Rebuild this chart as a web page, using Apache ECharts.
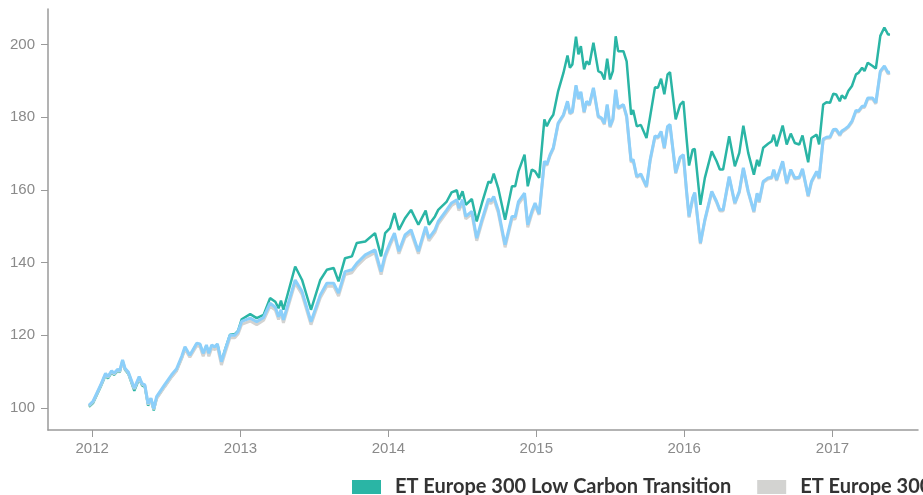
<!DOCTYPE html>
<html><head><meta charset="utf-8">
<script src="https://cdn.jsdelivr.net/npm/echarts@6/dist/echarts.min.js"></script>
<style>html,body{margin:0;padding:0;background:#fff}#c{width:923px;height:495px}</style>
</head><body><div id="c"></div>
<script>
const seriesNames = ['ET Europe 300 Low Carbon Transition', 'ET Europe 300', 'MSCI Europe'];
const yTicks = [100, 120, 140, 160, 180, 200];
const yearTicks = ['2012', '2013', '2014', '2015', '2016', '2017'];
const dates = [
'2011-12-24','2012-01-03','2012-01-22','2012-02-03','2012-02-09','2012-02-18','2012-02-24','2012-03-04','2012-03-09','2012-03-16','2012-03-22','2012-03-30','2012-04-14','2012-04-26','2012-05-03','2012-05-10','2012-05-18','2012-05-25','2012-06-01','2012-06-08','2012-06-28','2012-07-15','2012-07-27','2012-08-09','2012-08-17','2012-08-29','2012-09-15','2012-09-23','2012-10-01','2012-10-09','2012-10-15','2012-10-22','2012-10-30','2012-11-05','2012-11-15','2012-11-24','2012-12-06','2012-12-18','2012-12-26',
'2013-01-04','2013-01-25','2013-02-10','2013-02-27','2013-03-15','2013-03-28','2013-04-05','2013-04-11','2013-04-17','2013-05-16','2013-06-02','2013-06-24','2013-07-17','2013-08-02','2013-08-19','2013-08-31','2013-09-16','2013-10-03','2013-10-15','2013-11-05','2013-11-29','2013-12-14','2013-12-24',
'2014-01-05','2014-01-16','2014-01-27','2014-02-11','2014-02-26','2014-03-16','2014-04-03','2014-04-11','2014-04-26','2014-05-04','2014-05-25','2014-06-06','2014-06-19','2014-06-24','2014-07-03','2014-07-11','2014-07-26','2014-08-07','2014-08-20','2014-09-05','2014-09-11','2014-09-18','2014-09-29','2014-10-16','2014-11-02','2014-11-10','2014-11-18','2014-12-03','2014-12-11','2014-12-21','2014-12-29',
'2015-01-08','2015-01-21','2015-01-27','2015-02-04','2015-02-12','2015-02-24','2015-03-09','2015-03-19','2015-03-25','2015-03-31','2015-04-09','2015-04-15','2015-04-21','2015-04-29','2015-05-05','2015-05-12','2015-05-22','2015-06-03','2015-06-11','2015-06-18','2015-06-25','2015-07-02','2015-07-09','2015-07-16','2015-07-22','2015-08-04','2015-08-12','2015-08-23','2015-08-28','2015-09-06','2015-09-16','2015-09-30','2015-10-09','2015-10-21','2015-10-28','2015-11-05','2015-11-13','2015-11-21','2015-11-27','2015-12-11','2015-12-22','2015-12-30',
'2016-01-07','2016-01-13','2016-01-22','2016-01-27','2016-02-10','2016-02-21','2016-03-09','2016-03-21','2016-03-29','2016-04-06','2016-04-21','2016-05-05','2016-05-16','2016-05-26','2016-06-07','2016-06-21','2016-06-29','2016-07-04','2016-07-14','2016-07-26','2016-08-04','2016-08-09','2016-08-16','2016-08-31','2016-09-10','2016-09-20','2016-09-30','2016-10-11','2016-10-19','2016-11-02','2016-11-10','2016-11-23','2016-11-29','2016-12-09','2016-12-17','2016-12-26',
'2017-01-03','2017-01-10','2017-01-19','2017-01-24','2017-02-01','2017-02-09','2017-02-18','2017-02-28','2017-03-06','2017-03-15','2017-03-21','2017-03-29','2017-04-10','2017-04-18','2017-04-29','2017-05-09','2017-05-18','2017-05-23'
];
const lowCarbon = [
100.3,101.3,105.8,109.0,108.1,109.7,109.1,110.2,109.8,112.8,110.5,109.4,104.7,108.0,106.2,105.8,100.6,102.2,99.3,102.6,105.9,108.6,110.2,113.7,116.4,114.2,117.6,117.4,114.8,117.1,114.8,117.1,116.6,117.5,112.7,116.0,120.1,120.3,121.2,
124.4,125.8,124.7,125.6,130.2,129.2,127.4,129.5,127.0,138.9,135.2,127.0,135.2,138.0,138.5,134.8,141.2,141.7,145.4,145.8,148.1,141.7,148.1,
149.5,153.6,149.0,152.2,154.5,150.4,154.3,150.4,152.7,154.5,156.8,159.3,159.9,157.3,159.6,155.9,157.5,151.3,156.4,162.3,161.9,164.5,160.5,151.8,161.0,161.0,165.1,169.7,161.0,165.6,165.1,
163.3,179.4,177.5,179.4,180.7,187.2,192.2,197.0,193.6,194.5,202.2,197.3,199.6,193.2,195.4,194.5,200.5,192.7,192.2,190.4,196.1,190.4,192.7,202.3,198.2,198.2,195.4,180.7,182.0,177.5,177.9,174.3,180.2,188.3,188.1,190.6,186.3,191.8,192.4,179.4,183.5,184.4,
174.0,166.7,171.1,171.3,155.9,163.3,170.6,167.9,165.6,165.6,174.8,166.5,170.2,177.7,170.2,164.2,168.3,166.5,171.6,172.7,173.4,175.2,172.0,177.7,172.5,175.5,172.9,172.5,175.0,167.6,174.3,175.2,172.5,183.5,184.1,184.0,
186.5,186.3,184.4,186.0,185.1,187.2,188.6,191.8,192.2,193.6,192.7,195.0,194.1,193.4,202.4,204.7,202.8,202.8
];
const europe300 = [
100.5,101.6,106.1,109.3,108.4,110.0,109.3,110.4,110.0,113.0,110.7,109.7,105.2,108.4,106.5,106.1,100.9,102.5,99.6,102.5,105.8,108.5,110.1,113.6,116.2,113.9,117.1,116.9,114.2,116.6,114.2,116.5,116.0,116.9,111.8,115.1,119.3,119.3,120.3,
123.0,123.9,122.9,124.1,128.0,126.9,124.3,126.2,123.4,134.4,131.2,122.9,130.3,133.5,133.5,130.8,136.7,137.2,139.0,141.3,142.7,136.7,141.3,
144.7,147.4,142.4,146.9,148.3,142.4,149.2,146.0,148.3,150.6,153.8,155.7,156.6,154.3,156.6,152.0,153.4,146.0,151.1,156.8,156.2,157.5,153.8,144.2,152.0,152.0,156.1,158.4,149.7,153.4,155.7,
153.1,167.6,166.7,169.4,171.3,178.1,180.4,184.1,180.9,181.3,188.5,184.9,186.7,181.2,184.1,183.2,187.8,180.0,179.5,178.0,183.2,177.2,179.2,187.3,182.3,183.2,180.0,167.6,168.1,163.4,164.1,160.7,168.0,174.6,174.2,175.8,171.3,177.2,177.7,164.5,168.7,169.4,
159.2,152.4,157.5,159.0,145.1,151.5,159.3,156.5,154.2,154.2,163.4,156.1,159.3,165.8,159.3,153.8,158.8,156.5,162.0,163.0,163.2,165.3,162.5,167.6,161.6,165.3,163.0,163.2,165.5,158.1,162.0,164.8,163.0,173.7,174.2,174.3,
176.3,176.4,174.9,175.9,176.5,177.2,178.6,181.6,181.4,182.7,182.7,185.0,185.0,183.7,192.4,193.8,192.0,192.1
];
const benchmark = [
100.7,101.8,106.3,109.5,108.6,110.2,109.5,110.6,110.2,113.2,110.9,109.9,105.4,108.6,106.7,106.3,101.1,102.7,99.8,103.1,106.4,109.1,110.7,114.2,116.8,114.5,117.8,117.6,115.0,117.3,115.0,117.3,116.8,117.6,112.7,115.9,120.0,120.0,121.0,
123.8,124.7,123.7,124.9,128.8,127.7,125.1,127.0,124.2,135.2,132.0,123.7,131.1,134.3,134.3,131.6,137.5,138.0,139.8,142.1,143.5,137.5,142.1,
145.4,148.1,143.1,147.6,149.0,143.1,149.9,146.7,149.0,151.3,154.5,156.4,157.3,155.0,157.3,152.7,154.1,146.7,151.8,157.5,156.9,158.2,154.5,144.9,152.7,152.7,156.8,159.1,150.4,154.1,156.4,
153.4,167.9,167.0,169.7,171.6,178.4,180.7,184.4,181.2,181.6,188.8,185.2,187.0,181.5,184.4,183.5,188.1,180.3,179.8,178.3,183.5,177.5,179.5,187.6,182.6,183.5,180.3,167.9,168.4,163.7,164.4,161.0,168.3,174.9,174.5,176.1,171.6,177.5,178.0,164.8,169.0,169.7,
159.5,152.7,157.8,159.3,145.4,151.8,159.6,156.8,154.5,154.5,163.7,156.4,159.6,166.1,159.6,154.1,159.1,156.8,162.3,163.3,163.5,165.6,162.8,167.9,161.9,165.6,163.3,163.5,165.8,158.4,162.3,165.1,163.3,174.0,174.5,174.6,
176.6,176.7,175.2,176.2,176.8,177.5,178.9,181.9,181.7,183.0,183.0,185.3,185.3,184.0,192.7,194.1,192.3,192.4
];
const colors = ['#2ab5a5', '#d3d3d1', '#8ccffa'];

const chart = echarts.init(document.getElementById('c'), null, {renderer: 'canvas'});
const ts = s => new Date(s + 'T00:00:00').getTime();
const pair = arr => dates.map((d, i) => [ts(d), arr[i]]);
const yearStamps = yearTicks.map(y => ts(y + '-01-01'));
const axisGrey = '#9a9a9a';
const labelGrey = '#8a8a8a';
chart.setOption({
  animation: false,
  color: colors,
  grid: {left: 48, right: 5, top: 9, bottom: 65, containLabel: false},
  legend: {
    left: 352, top: 477, width: 3000, padding: 0,
    icon: 'rect', itemWidth: 29, itemHeight: 14, itemGap: 26,
    textStyle: {fontFamily: 'Lato', fontWeight: 'bold', fontSize: 20, lineHeight: 20, color: '#333', padding: [0, 0, 0, 9]},
    data: seriesNames
  },
  xAxis: {
    type: 'value',
    min: ts('2011-09-14'),
    max: ts('2017-07-31'),
    splitLine: {show: false},
    axisLine: {show: true, lineStyle: {color: axisGrey, width: 1.5}},
    axisTick: {show: true, length: 7, lineStyle: {color: axisGrey, width: 1}, customValues: yearStamps},
    axisLabel: {
      customValues: yearStamps, margin: 11, color: labelGrey, fontSize: 15,
      fontFamily: 'Liberation Sans',
      formatter: v => String(new Date(v).getFullYear())
    }
  },
  yAxis: {
    type: 'value', min: 93.9, max: 209.8,
    splitLine: {show: false},
    axisLine: {show: true, lineStyle: {color: axisGrey, width: 1.5}},
    axisTick: {show: true, length: 7, lineStyle: {color: axisGrey, width: 1}, customValues: yTicks},
    axisLabel: {customValues: yTicks, margin: 13, color: labelGrey, fontSize: 15, fontFamily: 'Liberation Sans'}
  },
  series: [
    {name: seriesNames[0], type: 'line', data: pair(lowCarbon), showSymbol: false, symbol: 'none', lineStyle: {width: 2.5, color: colors[0]}, z: 2},
    {name: seriesNames[1], type: 'line', data: pair(europe300), showSymbol: false, symbol: 'none', lineStyle: {width: 3, color: colors[1]}, z: 3},
    {name: seriesNames[2], type: 'line', data: pair(benchmark), showSymbol: false, symbol: 'none', lineStyle: {width: 3, color: colors[2]}, z: 4}
  ]
});
</script>
</body></html>
